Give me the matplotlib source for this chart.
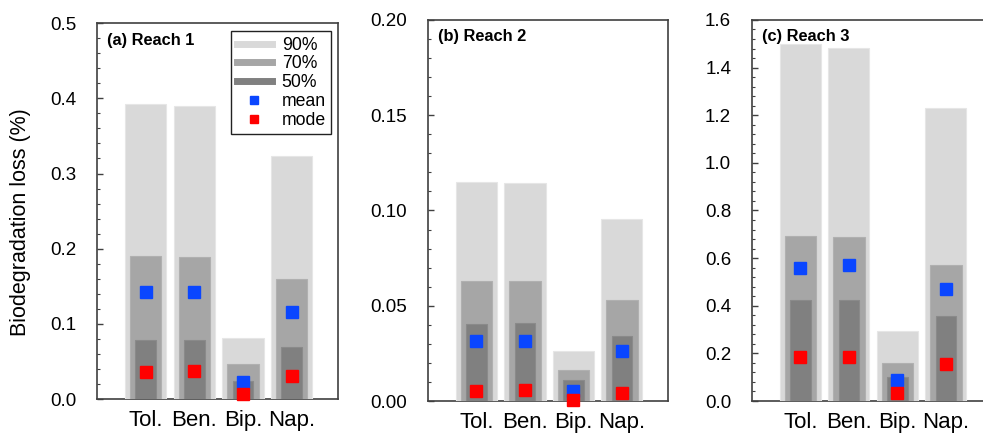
import matplotlib
matplotlib.use("Agg")
import matplotlib.pyplot as plt
from matplotlib.lines import Line2D
from matplotlib.ticker import MultipleLocator, FormatStrFormatter
import numpy as np

plt.rcParams["font.family"] = ["Liberation Sans", "DejaVu Sans"]

compounds = ["Tol.", "Ben.", "Bip.", "Nap."]

# % biodegradation loss
reach1_p90 = [0.393, 0.390, 0.081, 0.323]
reach1_p70 = [0.190, 0.189, 0.046, 0.159]
reach1_p50 = [0.079, 0.079, 0.024, 0.069]
reach1_mean = [0.142, 0.142, 0.023, 0.116]
reach1_mode = [0.036, 0.037, 0.007, 0.031]

reach2_p90 = [0.1147, 0.1142, 0.0263, 0.0953]
reach2_p70 = [0.0632, 0.0632, 0.0165, 0.0532]
reach2_p50 = [0.0405, 0.0407, 0.0110, 0.0342]
reach2_mean = [0.0314, 0.0316, 0.0053, 0.0261]
reach2_mode = [0.0053, 0.0058, 0.0005, 0.0044]

reach3_p90 = [1.500, 1.484, 0.294, 1.231]
reach3_p70 = [0.691, 0.687, 0.159, 0.573]
reach3_p50 = [0.425, 0.424, 0.101, 0.355]
reach3_mean = [0.557, 0.573, 0.090, 0.471]
reach3_mode = [0.183, 0.183, 0.032, 0.154]

C90, C70, C50 = "#d9d9d9", "#a6a6a6", "#808080"
CMEAN, CMODE = "#0a46ff", "#ff0000"
SPINE = "#404040"

fig = plt.figure(figsize=(9.83, 4.33), dpi=100)

panels = [
    ("(a) Reach 1", [0.0987, 0.0785, 0.245, 0.868], 0.5, 0.1, 0.02, "%.1f",
     reach1_p90, reach1_p70, reach1_p50, reach1_mean, reach1_mode),
    ("(b) Reach 2", [0.4354, 0.0739, 0.244, 0.880], 0.2, 0.05, 0.01, "%.2f",
     reach2_p90, reach2_p70, reach2_p50, reach2_mean, reach2_mode),
    ("(c) Reach 3", [0.765, 0.0739, 0.244, 0.880], 1.6, 0.2, 0.04, "%.1f",
     reach3_p90, reach3_p70, reach3_p50, reach3_mean, reach3_mode),
]

x = np.arange(1, len(compounds) + 1)

for i, (title, rect, ymax, major, minor, fmt, p90, p70, p50, mean, mode) in enumerate(panels):
    ax = fig.add_axes(rect)
    ax.bar(x, p90, width=0.85, color=C90, edgecolor="#e6e6e6", linewidth=0.8, zorder=3)
    ax.bar(x, p70, width=0.65, color=C70, edgecolor="#b0b0b0", linewidth=0.8, zorder=3)
    ax.bar(x, p50, width=0.42, color=C50, edgecolor="#8a8a8a", linewidth=0.8, zorder=3)
    ax.plot(x, mean, "s", color=CMEAN, markersize=8, zorder=4, clip_on=False)
    ax.plot(x, mode, "s", color=CMODE, markersize=8, zorder=4, clip_on=False)

    ax.set_xlim(0, 4.95)
    ax.set_ylim(0, ymax)
    ax.set_xticks(x)
    ax.set_xticklabels(compounds, fontsize=16)
    ax.yaxis.set_major_locator(MultipleLocator(major))
    ax.yaxis.set_minor_locator(MultipleLocator(minor))
    ax.yaxis.set_major_formatter(FormatStrFormatter(fmt))
    ax.tick_params(axis="x", length=0, pad=8)
    ax.tick_params(axis="y", which="major", direction="in", length=4, width=1,
                   color=SPINE, labelsize=13.5, pad=15)
    ax.tick_params(axis="y", which="minor", direction="in", length=2.5, width=0.8,
                   color=SPINE)
    for sp in ax.spines.values():
        sp.set_color(SPINE)
        sp.set_linewidth(1.2)
    ax.text(0.04, 0.975, title, transform=ax.transAxes, fontsize=11.8,
            fontweight="bold", ha="left", va="top", zorder=5)

    if i == 0:
        ax.set_ylabel("Biodegradation loss (%)", fontsize=15.5)
        ax.yaxis.set_label_coords(-0.275, 0.47)
        handles = [
            Line2D([], [], color=C90, linewidth=5),
            Line2D([], [], color=C70, linewidth=5),
            Line2D([], [], color=C50, linewidth=5),
            Line2D([], [], color=CMEAN, marker="s", linestyle="none", markersize=6),
            Line2D([], [], color=CMODE, marker="s", linestyle="none", markersize=6),
        ]
        leg = ax.legend(handles, ["90%", "70%", "50%", "mean", "mode"],
                        loc="upper right", bbox_to_anchor=(0.972, 0.978),
                        borderaxespad=0, fontsize=12.7, handlelength=2.0,
                        labelspacing=0.1, handletextpad=0.55, fancybox=False,
                        framealpha=1, borderpad=0.3)
        leg.get_frame().set_edgecolor("#222222")
        leg.get_frame().set_linewidth(1.0)
        leg.set_zorder(6)

fig.savefig("out.png", dpi=100)
